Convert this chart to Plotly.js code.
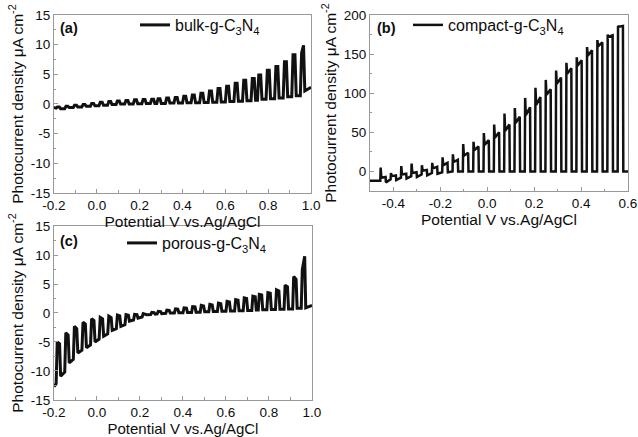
<!DOCTYPE html>
<html>
<head>
<meta charset="utf-8">
<script src="https://cdn.plot.ly/plotly-3.0.1.min.js"></script>
<style>
html,body{margin:0;padding:0;background:#fff;}
#chart{width:638px;height:437px;}
</style>
</head>
<body>
<div id="chart"></div>
<script>
// ---------- (a) bulk-g-C3N4 : chopped-light cycles ----------
const bulkOn       = [-0.19,-0.15,-0.11,-0.07,-0.03,0.01,0.05,0.09,0.13,0.17,0.21,0.25,0.28,0.32,0.36,0.40,0.44,0.48,0.52,0.56,0.60,0.64,0.68,0.72,0.75,0.79,0.83,0.87,0.91,0.95];
const bulkDark     = [-0.7,-0.8,-0.6,-0.5,-0.4,-0.3,-0.2,-0.1,0.0,0.0,0.05,0.1,0.1,0.1,0.15,0.15,0.2,0.2,0.25,0.3,0.35,0.4,0.45,0.55,0.65,0.8,0.9,1.0,1.2,1.4];
const bulkPeak     = [-0.5,-0.4,-0.2,-0.1,0.1,0.3,0.4,0.5,0.6,0.7,0.75,0.8,0.9,1.0,1.1,1.3,1.5,1.8,2.2,2.6,3.0,3.5,4.0,4.3,4.9,5.7,6.3,7.1,8.3,8.6];
const bulkLightEnd = [-0.5,-0.4,-0.2,-0.1,0.1,0.3,0.4,0.5,0.6,0.7,0.75,0.8,0.9,1.0,1.1,1.3,1.5,1.8,2.2,2.6,3.0,3.5,4.0,4.3,4.9,5.7,6.3,7.1,8.3,9.9];
const bulkTrough   = [-0.8,-0.6,-0.5,-0.4,-0.3,-0.2,-0.1,0.0,0.0,0.05,0.1,0.1,0.1,0.15,0.15,0.2,0.2,0.25,0.3,0.35,0.4,0.45,0.55,0.65,0.8,0.9,1.0,1.2,1.4,2.2];
const bulkStart    = [-0.2, -0.6];
const bulkEnd      = [1.0, 2.8];

// ---------- (b) compact-g-C3N4 ----------
const compactOn       = [-0.456,-0.412,-0.368,-0.324,-0.28,-0.236,-0.192,-0.148,-0.104,-0.06,-0.016,0.028,0.072,0.116,0.16,0.204,0.248,0.292,0.336,0.38,0.424,0.468,0.512,0.556];
const compactDark     = [-12,-10,-8,-6,-4,-2,-1,0,0,0,0,0,0,0,0,0,0,0,0,0,0,0,0,0];
const compactSpike    = [5,-2,7,10,8,11,18,22,35,38,49,60,74,81,94,107,117,129,139,146,159,168,175,186];
const compactPlateau  = [-8,-6,-4,-2,1,4,8,12,20,27,34,43,52,62,72,85,98,112,125,135,148,160,172,185];
const compactLightEnd = [-7,-5,-3,-1,2,6,11,15,24,32,40,50,60,70,82,95,105,120,132,142,155,165,174,186];
const compactTrough   = [-14,-11,-9,-7,-5,-3,-1,0,0,0,0,0,0,0,0,0,0,0,0,0,0,0,0,0];
const compactStart    = [-0.5, -12];
const compactEnd      = [0.6, 0];

// ---------- (c) porous-g-C3N4 ----------
const porousOn       = [-0.19,-0.15,-0.11,-0.07,-0.03,0.01,0.05,0.09,0.13,0.17,0.21,0.25,0.28,0.32,0.36,0.40,0.44,0.48,0.52,0.56,0.60,0.64,0.68,0.72,0.75,0.79,0.83,0.87,0.91,0.95];
const porousDark     = [-12.2,-10.2,-8.0,-6.4,-5.5,-4.5,-3.6,-2.7,-2.0,-1.2,-0.7,-0.25,-0.15,-0.05,0.0,0.05,0.1,0.15,0.2,0.25,0.3,0.35,0.4,0.45,0.5,0.55,0.6,0.65,0.7,0.8];
const porousPeak     = [-5.0,-3.4,-2.3,-1.6,-1.0,-0.75,-0.55,-0.35,-0.3,-0.25,-0.1,0.1,0.3,0.5,0.7,0.9,1.1,1.3,1.5,1.7,2.0,2.3,2.6,2.9,3.2,3.5,4.0,4.8,6.3,7.5];
const porousLightEnd = [-5.3,-3.8,-2.7,-1.9,-1.3,-1.0,-0.8,-0.5,-0.4,-0.3,-0.15,0.05,0.25,0.45,0.65,0.85,1.05,1.2,1.4,1.6,1.9,2.2,2.5,2.8,3.1,3.4,3.8,4.5,5.8,9.8];
const porousTrough   = [-10.9,-8.6,-6.9,-6.0,-5.0,-4.0,-3.0,-2.3,-1.4,-0.9,-0.3,-0.2,-0.1,0.0,0.05,0.1,0.15,0.2,0.25,0.3,0.35,0.4,0.45,0.5,0.55,0.6,0.65,0.7,0.8,0.9];
const porousStart    = [-0.2, -12.7];
const porousEnd      = [1.0, 1.3];

// ---------- tick labels ----------
const xTickValsAC = [-0.2,0.0,0.2,0.4,0.6,0.8,1.0];
const xTickTextAC = ['-0.2','0.0','0.2','0.4','0.6','0.8','1.0'];
const yTickValsAC = [-15,-10,-5,0,5,10,15];
const yTickTextAC = ['-15','-10','-5','0','5','10','15'];
const xTickValsB  = [-0.4,-0.2,0.0,0.2,0.4,0.6];
const xTickTextB  = ['-0.4','-0.2','0.0','0.2','0.4','0.6'];
const yTickValsB  = [0,50,100,150,200];
const yTickTextB  = ['0','50','100','150','200'];

const labels = ['bulk-g-C<sub>3</sub>N<sub>4</sub>','compact-g-C<sub>3</sub>N<sub>4</sub>','porous-g-C<sub>3</sub>N<sub>4</sub>'];
const panelTags = ['(a)','(b)','(c)'];

// build the chopped trace path from the per-cycle values
function chopPath(start, on, dark, peak, plateau, lightEnd, trough, end, width, rise) {
  const xs = [start[0]], ys = [start[1]];
  for (let i = 0; i < on.length; i++) {
    xs.push(on[i]);               ys.push(dark[i]);
    xs.push(on[i] + rise);        ys.push(peak[i]);
    if (plateau) { xs.push(on[i] + rise * 3); ys.push(plateau[i]); }
    xs.push(on[i] + width - rise); ys.push(lightEnd[i]);
    xs.push(on[i] + width);       ys.push(trough[i]);
  }
  xs.push(end[0]); ys.push(end[1]);
  return {xs, ys};
}

const pa = chopPath(bulkStart, bulkOn, bulkDark, bulkPeak, null, bulkLightEnd, bulkTrough, bulkEnd, 0.021, 0.006);
const pb = chopPath(compactStart, compactOn, compactDark, compactSpike, compactPlateau, compactLightEnd, compactTrough, compactEnd, 0.024, 0.0015);
const pc = chopPath(porousStart, porousOn, porousDark, porousPeak, null, porousLightEnd, porousTrough, porousEnd, 0.021, 0.005);

const FONT = 'Liberation Sans, Arial, sans-serif';
const TXT = '#0d0d0d';

const traces = [
  {x: pa.xs, y: pa.ys, xaxis: 'x', yaxis: 'y', mode: 'lines', name: labels[0],
   line: {color: '#111', width: 3}, legend: 'legend'},
  {x: pb.xs, y: pb.ys, xaxis: 'x2', yaxis: 'y2', mode: 'lines', name: labels[1],
   line: {color: '#111', width: 2.5}, legend: 'legend2'},
  {x: pc.xs, y: pc.ys, xaxis: 'x3', yaxis: 'y3', mode: 'lines', name: labels[2],
   line: {color: '#111', width: 3}, legend: 'legend3'}
];

function xAx(domain, anchor, range, tv, tt, titleSize) {
  return {
    domain, anchor, range, tickmode: 'array', tickvals: tv, ticktext: tt,
    ticks: 'inside', ticklen: 4, tickcolor: '#999', tickwidth: 1,
    minor: {ticks: 'inside', ticklen: 2.5, tickcolor: '#999', dtick: 0.1, tick0: 0},
    showline: true, mirror: true, linecolor: '#999', linewidth: 1,
    showgrid: false, zeroline: false,
    tickfont: {family: FONT, size: 13.5, color: TXT},
    title: {text: 'Potential V vs.Ag/AgCl', font: {family: FONT, size: titleSize, color: TXT}, standoff: 0}
  };
}
function yAx(domain, anchor, range, tv, tt, minorStep) {
  return {
    domain, anchor, range, tickmode: 'array', tickvals: tv, ticktext: tt,
    ticks: 'inside', ticklen: 4, tickcolor: '#999', tickwidth: 1,
    minor: {ticks: 'inside', ticklen: 2.5, tickcolor: '#999', dtick: minorStep, tick0: 0},
    showline: true, mirror: true, linecolor: '#999', linewidth: 1,
    showgrid: false, zeroline: false,
    tickfont: {family: FONT, size: 13.5, color: TXT},
    title: {text: 'Photocurrent density μA cm<sup>-2</sup>', font: {family: FONT, size: 15.5, color: TXT}, standoff: 3}
  };
}
function legendAt(x, y) {
  return {x, y, xanchor: 'left', yanchor: 'middle', bgcolor: 'rgba(0,0,0,0)',
          borderwidth: 0, itemwidth: 30, font: {family: FONT, size: 16, color: TXT}};
}
function tag(i, x, y) {
  return {text: '<b>' + panelTags[i] + '</b>', xref: 'paper', yref: 'paper', x, y,
          xanchor: 'left', yanchor: 'middle', showarrow: false,
          font: {family: FONT, size: 14.5, color: TXT}};
}

const layout = {
  width: 638, height: 437,
  margin: {l: 0, r: 0, t: 0, b: 0},
  paper_bgcolor: '#fff', plot_bgcolor: '#fff',
  showlegend: true,
  xaxis:  xAx([0.0846, 0.4875], 'y',  [-0.2, 1.0], xTickValsAC, xTickTextAC, 15.5),
  yaxis:  yAx([0.5584, 0.9657], 'x',  [-15, 15],  yTickValsAC, yTickTextAC, 2.5),
  xaxis2: xAx([0.5799, 0.9843], 'y2', [-0.5, 0.6], xTickValsB, xTickTextB, 15.5),
  yaxis2: yAx([0.5629, 0.9657], 'x2', [-25, 200], yTickValsB, yTickTextB, 25),
  xaxis3: xAx([0.0846, 0.4890], 'y3', [-0.2, 1.0], xTickValsAC, xTickTextAC, 15),
  yaxis3: yAx([0.0847, 0.4828], 'x3', [-15, 15],  yTickValsAC, yTickTextAC, 2.5),
  legend:  legendAt(0.2116, 0.9428),
  legend2: legendAt(0.6395, 0.9428),
  legend3: legendAt(0.1912, 0.4439),
  annotations: [tag(0, 0.0909, 0.936), tag(1, 0.5878, 0.936), tag(2, 0.0909, 0.4485)]
};

Plotly.newPlot('chart', traces, layout, {displayModeBar: false, staticPlot: true});
</script>
</body>
</html>
